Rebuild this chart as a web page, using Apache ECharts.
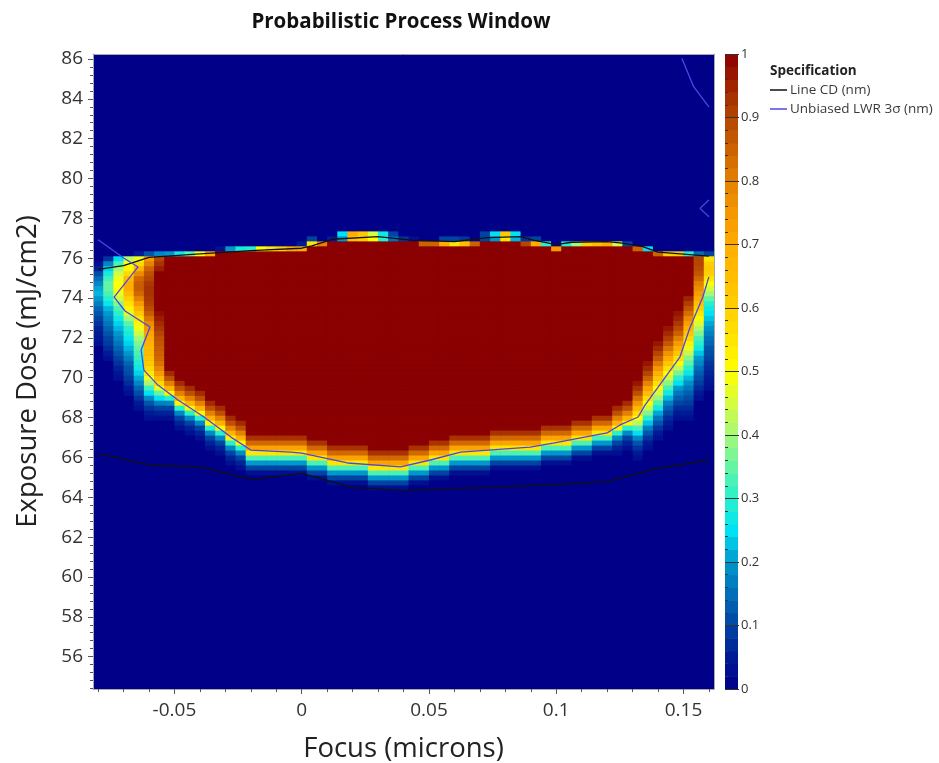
<!DOCTYPE html>
<html>
<head>
<meta charset="utf-8">
<title>Probabilistic Process Window</title>
<script src="https://cdn.jsdelivr.net/npm/echarts@6/dist/echarts.min.js"></script>
<style>
    html, body { margin: 0; padding: 0; background: #fff; }
    #chart { width: 939px; height: 763px; }
</style>
</head>
<body>
<div id="chart"></div>
<script>
    // focus columns (cell centres, microns)
    var focusCols = [-0.08,-0.076,-0.072,-0.068,-0.064,-0.06,-0.056,-0.052,-0.048,-0.044,-0.04,-0.036,-0.032,-0.028,-0.024,-0.02,
        -0.016,-0.012,-0.008,-0.004,0,0.004,0.008,0.012,0.016,0.02,0.024,0.028,0.032,0.036,0.04,0.044,0.048,0.052,0.056,0.06,
        0.064,0.068,0.072,0.076,0.08,0.084,0.088,0.092,0.096,0.1,0.104,0.108,0.112,0.116,0.12,0.124,0.128,0.132,0.136,0.14,
        0.144,0.148,0.152,0.156,0.16];
    // dose rows (cell centres, mJ/cm2)
    var doseRows = [54.5,54.75,55,55.25,55.5,55.75,56,56.25,56.5,56.75,57,57.25,57.5,57.75,58,58.25,58.5,58.75,59,59.25,
        59.5,59.75,60,60.25,60.5,60.75,61,61.25,61.5,61.75,62,62.25,62.5,62.75,63,63.25,63.5,63.75,64,64.25,64.5,64.75,
        65,65.25,65.5,65.75,66,66.25,66.5,66.75,67,67.25,67.5,67.75,68,68.25,68.5,68.75,69,69.25,69.5,69.75,70,70.25,
        70.5,70.75,71,71.25,71.5,71.75,72,72.25,72.5,72.75,73,73.25,73.5,73.75,74,74.25,74.5,74.75,75,75.25,75.5,75.75,
        76,76.25,76.5,76.75,77,77.25,77.5,77.75,78,78.25,78.5,78.75,79,79.25,79.5,79.75,80,80.25,80.5,80.75,81,81.25,
        81.5,81.75,82,82.25,82.5,82.75,83,83.25,83.5,83.75,84,84.25,84.5,84.75,85,85.25,85.5,85.75,86,86.25];

    // lower edge profiles (bottom -> top, before the run of 1)
    var edgeFlat = [0.03, 0.1, 0.2, 0.33, 0.55, 0.72, 0.84, 0.93];
    var edgeSlant = [0.03, 0.06, 0.1, 0.18, 0.3, 0.52, 0.68, 0.8, 0.88, 0.94];

    // per focus column: dose of the first non-zero cell, values going up, dose where the top band starts, top band values
    var lowStart = [71.75,71,70,69.25,68.5,68,68,68,67.5,67.25,
        67,66.5,66.25,65.75,65.5,65.25,65.25,65.25,65.25,65.25,
        65.25,65,65,64.75,64.75,64.75,64.75,64.5,64.5,64.5,
        64.5,64.75,64.75,65,65,65.25,65.25,65.25,65.25,65.5,
        65.5,65.5,65.5,65.5,65.75,65.75,65.75,66,66,66.25,
        66.25,66.25,66.5,66,66.5,67,67.5,68,68,69,69.5];
    var lowBand = [
        [0.03,0.04,0.05,0.06,0.08,0.1,0.12,0.14,0.17,0.2,0.22,0.21,0.18,0.15,0.11,0.06,0.03],
        [0.03,0.05,0.07,0.09,0.1,0.12,0.14,0.16,0.18,0.2,0.22,0.26,0.3,0.33,0.35,0.35,0.32,0.28,0.24,0.18,0.08],
        [0.03,0.04,0.06,0.08,0.1,0.12,0.14,0.16,0.18,0.2,0.22,0.24,0.27,0.3,0.33,0.38,0.44,0.48,0.5,0.5,0.48,0.45,0.4,0.33,0.25],
        [0.03,0.05,0.07,0.09,0.11,0.12,0.14,0.17,0.2,0.22,0.24,0.26,0.28,0.3,0.34,0.4,0.46,0.52,0.56,0.6,0.66,0.7,0.7,0.66,0.58,0.52,0.5,0.42],
        [0.03,0.05,0.08,0.11,0.14,0.18,0.21,0.24,0.27,0.29,0.31,0.33,0.35,0.37,0.4,0.44,0.48,0.52,0.56,0.62,0.68,0.74,0.8,0.84,0.86,0.86,0.84,0.78,0.68,0.58,0.48],
        [0.03,0.05,0.08,0.12,0.18,0.25,0.32,0.4,0.48,0.54,0.58,0.62,0.64,0.66,0.67,0.68,0.7,0.72,0.75,0.78,0.82,0.86,0.89,0.91,0.92,0.93,0.93,0.92,0.9,0.88,0.85,0.8,0.75],
        [0.03,0.06,0.1,0.17,0.25,0.35,0.48,0.58,0.67,0.74,0.79,0.82,0.84,0.85,0.86,0.87,0.88,0.9,0.92,0.94,0.96,0.98],
        edgeSlant, edgeSlant, edgeSlant, edgeSlant, edgeSlant, edgeSlant, edgeSlant, edgeSlant,
        edgeFlat, edgeFlat, edgeFlat, edgeFlat, edgeFlat, edgeFlat, edgeFlat, edgeFlat, edgeFlat, edgeFlat,
        edgeFlat, edgeFlat, edgeFlat, edgeFlat, edgeFlat, edgeFlat, edgeFlat, edgeFlat, edgeFlat, edgeFlat,
        edgeFlat, edgeFlat, edgeFlat, edgeFlat, edgeFlat, edgeFlat, edgeFlat, edgeFlat, edgeFlat, edgeFlat,
        edgeFlat, edgeFlat, edgeFlat, edgeFlat, edgeFlat, edgeFlat,
        edgeSlant, edgeSlant,
        [0.03,0.05,0.08,0.12,0.18,0.25,0.33,0.42,0.5,0.58,0.67,0.75,0.82,0.88,0.93,0.97],
        [0.03,0.05,0.08,0.12,0.17,0.23,0.3,0.37,0.44,0.5,0.57,0.65,0.72,0.79,0.85,0.9,0.94,0.97],
        [0.03,0.05,0.08,0.12,0.16,0.21,0.27,0.33,0.39,0.45,0.5,0.56,0.62,0.69,0.75,0.81,0.86,0.9,0.94,0.97],
        [0.03,0.05,0.07,0.1,0.13,0.17,0.22,0.27,0.32,0.38,0.44,0.5,0.56,0.63,0.7,0.76,0.82,0.87,0.91,0.94,0.97],
        [0.03,0.05,0.07,0.1,0.13,0.16,0.2,0.25,0.3,0.36,0.43,0.5,0.56,0.62,0.68,0.74,0.8,0.85,0.89,0.92,0.95,0.97],
        [0.03,0.05,0.07,0.09,0.11,0.13,0.16,0.19,0.22,0.26,0.3,0.34,0.38,0.43,0.48,0.53,0.58,0.63,0.68,0.73,0.78,0.83,0.87,0.91,0.95],
        [0.03,0.05,0.07,0.09,0.11,0.13,0.15,0.18,0.2,0.23,0.27,0.3,0.33,0.37,0.41,0.46,0.51,0.55,0.6,0.65,0.7,0.74,0.77,0.8,0.84,0.87,0.89,0.9,0.9],
        [0.03,0.04,0.05,0.06,0.07,0.08,0.1,0.11,0.12,0.14,0.15,0.17,0.19,0.21,0.23,0.25,0.27,0.3,0.35,0.4,0.45,0.5,0.55,0.6,0.62,0.6,0.55]
    ];
    var upStart = [76,76.25,76.25,76.25,76.25,76.25,75.5,76.25,76.25,76.25,
        76.25,76.25,76.5,76.5,76.5,76.5,76.5,76.5,76.5,76.5,
        76.5,76.75,76.75,77,77,77,77,77,77,77,
        77,77,76.75,76.75,76.75,76.75,76.75,76.75,77,77,
        77,77,76.75,76.75,76.75,76.5,76.75,76.75,76.75,76.75,
        76.75,76.75,76.75,76.5,76.5,76.25,76.25,76.25,76.25,76.25,76.25];
    var upBand = [[],[],[],[],[0.05],[0.12],[0.96,0.93,0.9,0.18],[0.2],[0.27],[0.35],
        [0.5],[0.7],[0.03],[0.2],[0.28],[0.3],[0.5],[0.55],[0.6],[0.7],
        [0.7,0.05],[0.55,0.1],[0.8],[0.05],[0.2,0.25],[0.65,0.7],[0.6,0.62],[0.5,0.45],[0.3,0.27],[0.15,0.1],
        [0.08],[0.03],[0.85],[0.85],[0.7,0.1],[0.55,0.1],[0.65,0.08],[0.85],[0.1,0.1],[0.2,0.25],
        [0.55,0.62],[0.22,0.25],[0.9,0.08],[0.7,0.1],[0.3],[0.75],[0.3],[0.4],[0.6],[0.65],
        [0.7],[0.45],[0.1],[0.85],[0.25],[0.85],[0.6],[0.6],[0.3],[0.15],[0.1]];

    // specification contour lines [focus, dose]
    var cdLower = [[-0.08,66.2],[-0.06,65.62],[-0.04,65.53],[-0.02,64.9],[0,65.2],[0.02,64.5],[0.04,64.35],
        [0.06,64.42],[0.08,64.52],[0.1,64.64],[0.12,64.78],[0.14,65.45],[0.16,65.87]];
    var cdUpper = [[-0.08,75.44],[-0.07,75.63],[-0.06,76.04],[-0.04,76.22],[-0.02,76.38],[0,76.5],[0.004,76.62],
        [0.012,76.95],[0.03,77.08],[0.043,76.91],[0.06,76.83],[0.073,77.03],[0.086,77.08],[0.091,76.91],
        [0.1,76.68],[0.106,76.8],[0.12,76.83],[0.126,76.76],[0.134,76.58],[0.14,76.3],[0.16,76.1]];
    var lwrMain = [[-0.08,76.93],[-0.0698,76.0],[-0.0643,75.56],[-0.0737,74.05],[-0.0694,73.35],[-0.0596,72.55],
        [-0.0631,71.39],[-0.062,70.38],[-0.0565,69.63],[-0.0486,68.88],[-0.0384,68.03],[-0.0278,67.02],[-0.02,66.37],
        [-0.0043,66.27],[0,66.22],[0.018,65.72],[0.0388,65.52],[0.0506,65.87],[0.0624,66.27],[0.0898,66.52],
        [0.0988,66.72],[0.12,67.23],[0.1251,67.63],[0.1322,68.03],[0.1349,68.63],[0.1486,71.04],[0.1525,72.5],
        [0.1576,74.05],[0.16,75.06]];
    var lwrCorner = [[0.1494,86.03],[0.154,84.61],[0.16,83.6]];
    var lwrNotch = [[0.16,78.92],[0.1565,78.5],[0.16,78.08]];

    // tick labels
    var focusTicks = [-0.05, 0, 0.05, 0.1, 0.15];
    var doseTicks = [56,58,60,62,64,66,68,70,72,74,76,78,80,82,84,86];

    var jetColors = ['#000088','#001a96','#0044a2','#006eb8','#0098cc','#00e2f4','#28f0cc','#64f4a6','#a4f878',
        '#d4fc40','#ffff00','#ffe600','#ffd000','#ffbe00','#ffac00','#f59800','#e48200','#cc6200','#b44600',
        '#a02400','#8b0000'];

    var focusMinor = [];
    for (var t = -8; t <= 16; t++) focusMinor.push(t / 100);
    var doseMinor = [];
    for (var q = 136; q <= 215; q++) doseMinor.push(+(q * 0.4).toFixed(1));

    // decode the columns into heatmap cells
    var cells = [];
    for (var c = 0; c < focusCols.length; c++) {
        var lowTop = lowStart[c] + lowBand[c].length * 0.25;
        for (var r = 0; r < doseRows.length; r++) {
            var d = doseRows[r];
            var v = 0;
            if (d >= lowStart[c] && d < lowTop) {
                v = lowBand[c][Math.round((d - lowStart[c]) / 0.25)];
            } else if (d >= lowTop && d < upStart[c]) {
                v = 1;
            } else if (d >= upStart[c]) {
                var k = Math.round((d - upStart[c]) / 0.25);
                v = k < upBand[c].length ? upBand[c][k] : 0;
            }
            cells.push([focusCols[c], d, v]);
        }
    }

    // colour bar steps
    var barSteps = [];
    for (var s = 0; s < 50; s++) barSteps.push([s / 50, (s + 1) / 50, (s + 0.5) / 50]);

    var font = '"Open Sans", "Noto Sans", sans-serif';
    var grayAxis = { color: '#a8a8a8', width: 1 };
    var tickStyle = { color: '#555', width: 1 };

    function renderCell(params, api) {
        var p = api.coord([api.value(0) - 0.002, api.value(1) + 0.125]);
        var size = api.size([0.004, 0.25]);
        var shape = echarts.graphic.clipRectByRect(
            { x: p[0], y: p[1], width: size[0] + 0.6, height: size[1] + 0.6 },
            { x: params.coordSys.x, y: params.coordSys.y, width: params.coordSys.width, height: params.coordSys.height }
        );
        return shape && { type: 'rect', shape: shape, style: { fill: api.visual('color') } };
    }
    function renderStep(params, api) {
        var p0 = api.coord([0, api.value(1)]);
        var p1 = api.coord([1, api.value(0)]);
        return {
            type: 'rect',
            shape: { x: p0[0], y: p0[1], width: p1[0] - p0[0], height: p1[1] - p0[1] + 0.6 },
            style: { fill: api.visual('color') }
        };
    }
    function specLine(name, color, data) {
        return {
            name: name, type: 'line', xAxisIndex: 1, yAxisIndex: 1, data: data,
            symbol: 'none', showSymbol: false, silent: true, z: 4,
            color: color, lineStyle: { color: color, width: 1.3 }
        };
    }

    var mychart = echarts.init(document.getElementById('chart'));
    var option = {
        animation: false,
        textStyle: { fontFamily: font },
        grid: [
            { left: 93, top: 54, width: 621, height: 635, outerBoundsMode: 'none', containLabel: false,
              show: true, backgroundColor: '#000088', borderWidth: 0 },
            { left: 725, top: 54, width: 13, height: 635, outerBoundsMode: 'none', containLabel: false }
        ],
        graphic: [
            { type: 'text', x: 401, y: 22, style: { text: 'Probabilistic Process Window', font: 'bold 20.5px ' + font, fill: '#111', textAlign: 'center', textVerticalAlign: 'middle' } },
            { type: 'text', x: 770, y: 71, style: { text: 'Specification', font: 'bold 13.5px ' + font, fill: '#222', textAlign: 'left', textVerticalAlign: 'middle' } }
        ],
        legend: {
            orient: 'vertical', left: 770, top: 83, padding: 0, itemGap: 5,
            itemWidth: 17, itemHeight: 1.5, icon: 'rect',
            textStyle: { fontSize: 13.5, color: '#3a3a3a', fontFamily: font, padding: [0, 0, 0, -2] },
            data: ['Line CD (nm)', 'Unbiased LWR 3σ (nm)']
        },
        visualMap: {
            type: 'continuous', show: false, min: 0, max: 1, dimension: 2, seriesIndex: [0, 1],
            inRange: { color: jetColors }
        },
        xAxis: [
            { gridIndex: 0, type: 'value', min: -0.082, max: 0.162, position: 'bottom', z: 5,
              axisLine: { show: true, onZero: false, lineStyle: grayAxis },
              axisTick: { show: true, customValues: focusMinor, length: 3, lineStyle: tickStyle },
              axisLabel: { show: false }, splitLine: { show: false } },
            { gridIndex: 0, type: 'value', min: -0.082, max: 0.162, position: 'bottom', z: 5,
              axisLine: { show: false, onZero: false },
              axisTick: { show: true, customValues: focusTicks, length: 5, lineStyle: tickStyle },
              axisLabel: { customValues: focusTicks, fontSize: 19, color: '#333', margin: 12, fontFamily: font,
                           formatter: function (v) { return String(v); } },
              splitLine: { show: false },
              name: 'Focus (microns)', nameLocation: 'middle', nameGap: 46,
              nameTextStyle: { fontSize: 27.5, color: '#222', fontFamily: font } },
            { gridIndex: 0, type: 'value', min: -0.082, max: 0.162, position: 'top', z: 5,
              axisLine: { show: true, onZero: false, lineStyle: grayAxis }, axisTick: { show: false },
              axisLabel: { show: false }, splitLine: { show: false } },
            { gridIndex: 1, type: 'value', min: 0, max: 1, show: false }
        ],
        yAxis: [
            { gridIndex: 0, type: 'value', min: 54.375, max: 86.25, position: 'left', z: 5,
              axisLine: { show: true, onZero: false, lineStyle: grayAxis },
              axisTick: { show: true, customValues: doseMinor, length: 3, lineStyle: tickStyle },
              axisLabel: { show: false }, splitLine: { show: false } },
            { gridIndex: 0, type: 'value', min: 54.375, max: 86.25, position: 'left', z: 5,
              axisLine: { show: false, onZero: false },
              axisTick: { show: true, customValues: doseTicks, length: 5, lineStyle: tickStyle },
              axisLabel: { customValues: doseTicks, fontSize: 19, color: '#333', margin: 10, fontFamily: font },
              splitLine: { show: false },
              name: 'Exposure Dose (mJ/cm2)', nameLocation: 'middle', nameGap: 51,
              nameTextStyle: { fontSize: 27.5, color: '#222', fontFamily: font } },
            { gridIndex: 0, type: 'value', min: 54.375, max: 86.25, position: 'right', z: 5,
              axisLine: { show: true, onZero: false, lineStyle: grayAxis }, axisTick: { show: false },
              axisLabel: { show: false }, splitLine: { show: false } },
            { gridIndex: 1, type: 'value', min: 0, max: 1, interval: 0.1, position: 'left', z: 5,
              axisLine: { show: false, onZero: false },
              axisTick: { show: true, inside: true, length: 14, lineStyle: { color: '#333', width: 1 } },
              minorTick: { show: true, splitNumber: 5, length: 3, lineStyle: { color: '#333', width: 1 } },
              axisLabel: { inside: true, fontSize: 13, color: '#333', margin: 16, fontFamily: font,
                           formatter: function (v) { return String(+v.toFixed(1)); } },
              splitLine: { show: false } }
        ],
        series: [
            { type: 'custom', name: 'probability', xAxisIndex: 1, yAxisIndex: 1, data: cells,
              renderItem: renderCell, silent: true, z: 2 },
            { type: 'custom', name: 'scale', xAxisIndex: 3, yAxisIndex: 3, data: barSteps,
              renderItem: renderStep, silent: true, z: 2 },
            specLine('Line CD (nm)', '#111111', cdLower),
            specLine('Line CD (nm)', '#111111', cdUpper),
            specLine('Unbiased LWR 3σ (nm)', '#4848e8', lwrMain),
            specLine('Unbiased LWR 3σ (nm)', '#4848e8', lwrCorner),
            specLine('Unbiased LWR 3σ (nm)', '#4848e8', lwrNotch)
        ]
    };
    mychart.setOption(option);
</script>
</body>
</html>
